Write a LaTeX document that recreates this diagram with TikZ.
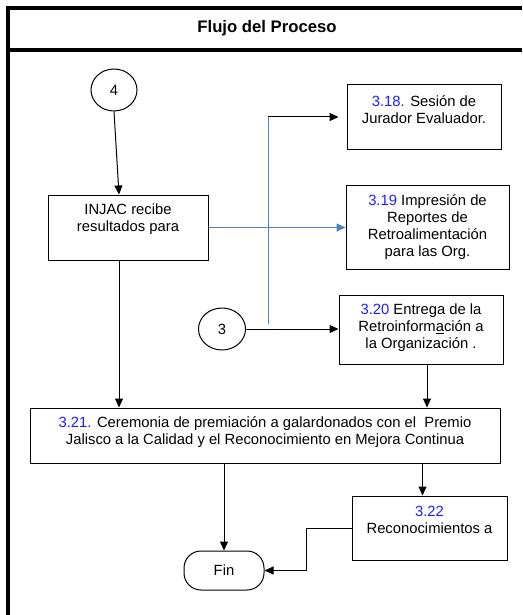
\documentclass[tikz,border=0pt]{standalone}
\usepackage{fontspec}
\setmainfont{Liberation Sans}
\usetikzlibrary{arrows.meta,shapes.geometric,calc}
\definecolor{numblue}{RGB}{30,30,255}
\definecolor{linkblue}{RGB}{79,129,189}
\newcommand{\nb}[1]{\textcolor{numblue}{#1}}
\begin{document}
\begin{tikzpicture}[x=1pt,y=-1pt,
  every node/.style={font=\fontsize{14.8}{17}\selectfont},
  frame/.style={line width=4pt},
  stepbox/.style={draw, line width=1pt, rectangle, inner sep=0pt},
  txt/.style={inner sep=0pt, align=center},
  conn/.style={draw, ellipse, line width=1pt, inner sep=0pt},
  arr/.style={line width=1pt, -{Triangle[length=9pt,width=8pt]}},
  bluearr/.style={line width=1pt, color=linkblue, -{Triangle[length=9pt,width=8pt]}},
  blueline/.style={line width=1pt, color=linkblue}
]
\useasboundingbox (0,0) rectangle (522,615);
% frame
\draw[frame, line join=miter] (522,8) -- (8,8) -- (8,615);
\draw[frame] (8,50) -- (522,50);
\node[font=\fontsize{16.7}{19}\selectfont\bfseries] (title) at (267,28) {Flujo del Proceso};

% connectors (circles)
\node[conn, minimum width=46pt, minimum height=42pt] (c4) at (114,90) {4};
\node[conn, minimum width=47pt, minimum height=42pt] (c3) at (222,329) {3};

% boxes
\node[stepbox, minimum width=160pt, minimum height=65pt] (injac) at (128,227.5) {};
\node[txt] (tinjac) at (128,219.5) {INJAC recibe\\resultados para};

\node[stepbox, minimum width=154pt, minimum height=64pt] (b318) at (424,117) {};
\node[txt] (t318) at (424,109.5) {\nb{3.18.} Sesión de\\Jurador Evaluador.};

\node[stepbox, minimum width=163pt, minimum height=84pt] (b319) at (427.5,227) {};
\node[txt] (t319) at (427.5,227) {\nb{3.19} Impresión de\\Reportes de\\Retroalimentación\\para las Org.};

\node[stepbox, minimum width=164pt, minimum height=69pt] (b320) at (421,329.5) {};
\node[txt] (t320) at (421,328) {\nb{3.20} Entrega de la\\Retroinform\underline{a}ción a\\la Organización .};

\node[stepbox, minimum width=470pt, minimum height=55pt] (b321) at (265,435.5) {};
\node[txt] (t321) at (265,432.5) {\nb{3.21.} Ceremonia de premiación a galardonados con el\ \ Premio\\Jalisco a la Calidad y el Reconocimiento en Mejora Continua};

\node[stepbox, minimum width=155pt, minimum height=64pt] (b322) at (429.5,528) {};
\node[txt] (t322) at (429.5,520) {\nb{3.22}\\Reconocimientos a};

\node[stepbox, rounded corners=17pt, minimum width=80pt, minimum height=39pt] (fin) at (224,570.5) {};
\node[txt] (tfin) at (224,570.5) {Fin};

% helper coordinates
\coordinate (j) at (268,324);
\coordinate (k1) at ($(injac.south)+(-9,0)$);
\coordinate (k2) at ($(b320.south)+(6,0)$);
\coordinate (k3) at ($(b322.north)+(-7,0)$);

% arrows
\draw[arr] (c4.south) -- ([xshift=-9pt]injac.north);
\draw[bluearr] (injac.east) -- (injac.east -| b319.west);
\draw[blueline] (j) -- (j |- b318.west);
\draw[arr, shorten >=8pt] (j |- b318.west) -- (b318.west);
\draw[arr] (c3.east) -- (c3.east -| b320.west);
\draw[arr] (k1) -- (k1 |- b321.north);
\draw[arr] (k2) -- (k2 |- b321.north);
\draw[arr] (fin.north |- b321.south) -- (fin.north);
\draw[arr] (k3 |- b321.south) -- (k3);
\draw[arr] (b322.west) -- ++(-45,0) |- (fin.east);
\end{tikzpicture}
\end{document}
